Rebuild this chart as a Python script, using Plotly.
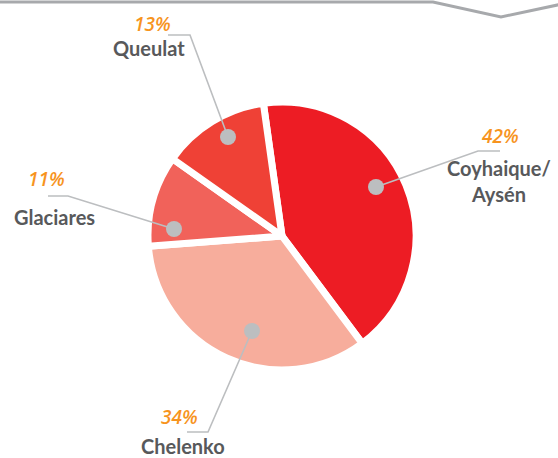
import plotly.graph_objects as go

# data
comunas = ["Coyhaique/<br>Aysén", "Chelenko", "Glaciares", "Queulat"]
shares = [42, 34, 11, 13]
slice_colors = ["#ED1C24", "#F7AD9C", "#F1625A", "#EF4136"]

W, H = 558, 458
GRAY_LINE = "#BCBEC0"
ORANGE = "#F7941E"
DARK = "#58595B"

# label layout: dot, elbow, end of leader, pct text pos, name text pos
labels = [
    dict(dot=(376, 187), elbow=(478, 151), end=(500, 151), pct=(500, 136), name=(499, 181)),
    dict(dot=(252, 331), elbow=(208, 432), end=(187, 432), pct=(179, 417), name=(183, 446)),
    dict(dot=(174, 229), elbow=(68, 196), end=(48, 196), pct=(46, 179), name=(54, 217)),
    dict(dot=(228, 137), elbow=(190, 35), end=(168, 35), pct=(152, 24), name=(149, 48)),
]

fig = go.Figure(go.Pie(
    labels=comunas,
    values=shares,
    sort=False,
    direction="clockwise",
    rotation=-8,
    marker=dict(colors=slice_colors, line=dict(color="white", width=7)),
    textinfo="none",
    hoverinfo="label+percent",
    showlegend=False,
    domain=dict(x=[148 / W, 416 / W], y=[(H - 371) / H, (H - 101) / H]),
))

shapes = []
annotations = []
for lab, name, pct in zip(labels, comunas, shares):
    (x0, y0), (x1, y1), (x2, y2) = lab["dot"], lab["elbow"], lab["end"]
    shapes.append(dict(type="path", xref="x", yref="y",
                       path=f"M{x0},{y0} L{x1},{y1} L{x2},{y2}",
                       line=dict(color=GRAY_LINE, width=1.6)))
    shapes.append(dict(type="circle", xref="x", yref="y",
                       x0=x0 - 8, x1=x0 + 8, y0=y0 - 8, y1=y0 + 8,
                       fillcolor=GRAY_LINE, line=dict(width=0)))
    annotations.append(dict(x=lab["pct"][0], y=lab["pct"][1], xref="x", yref="y",
                            text=f"<i>{pct}%</i>", showarrow=False,
                            font=dict(family="Open Sans", size=19, color=ORANGE, weight=600)))
    annotations.append(dict(x=lab["name"][0], y=lab["name"][1], xref="x", yref="y",
                            text=f"<b>{name}</b>", showarrow=False,
                            font=dict(family="Lato", size=20, color=DARK)))

# decorative line along the top edge
shapes.append(dict(type="path", xref="x", yref="y",
                   path="M-5,2 L433,2 L501,17 L562,4",
                   line=dict(color="#A7A9AC", width=3)))

fig.update_layout(
    width=W, height=H,
    margin=dict(l=0, r=0, t=0, b=0),
    paper_bgcolor="white", plot_bgcolor="white",
    xaxis=dict(range=[0, W], visible=False, fixedrange=True),
    yaxis=dict(range=[H, 0], visible=False, fixedrange=True),
    shapes=shapes,
    annotations=annotations,
)

fig.write_html("out.html", config={"displayModeBar": False},
               post_script="document.body.style.margin='0';")
